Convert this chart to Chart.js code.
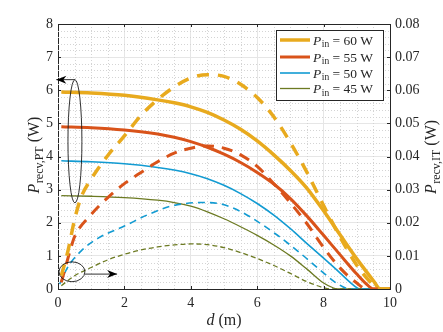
<!DOCTYPE html>
<html>
<head>
<meta charset="utf-8">
<script src="https://cdn.jsdelivr.net/npm/chart.js@4"></script>
<style>
  body { margin: 0; background: #fff; }
  canvas { display: block; }
</style>
</head>
<body>
<canvas id="myChart" width="443" height="332"></canvas>
<script>
// solid curves: P_recv,PT (left axis, W)
const d60 = [0.1, 1, 2, 3, 3.5, 4, 4.5, 5, 5.5, 6, 6.5, 7, 7.5, 8, 8.5, 9, 9.5, 9.7, 10];
const pt60 = [5.95, 5.92, 5.85, 5.71, 5.62, 5.5, 5.33, 5.1, 4.82, 4.47, 4.05, 3.58, 3.04, 2.36, 1.63, 0.91, 0.25, 0, 0];
const d55 = [0.1, 1, 2, 3, 3.5, 4, 4.5, 5, 5.5, 6, 6.5, 7, 7.5, 8, 8.5, 9, 9.3, 9.5, 10];
const pt55 = [4.9, 4.87, 4.8, 4.68, 4.58, 4.45, 4.28, 4.07, 3.82, 3.52, 3.17, 2.73, 2.2, 1.62, 1.03, 0.45, 0.14, 0, 0];
const d50 = [0.1, 1, 2, 3, 3.5, 4, 4.5, 5, 5.5, 6, 6.5, 7, 7.5, 8, 8.5, 8.8, 9.0, 9.1, 10];
const pt50 = [3.87, 3.84, 3.78, 3.67, 3.59, 3.48, 3.33, 3.13, 2.88, 2.58, 2.23, 1.82, 1.37, 0.93, 0.48, 0.2, 0.04, 0, 0];
const d45 = [0.1, 1, 2, 3, 3.5, 4, 4.5, 5, 5.5, 6, 6.5, 7, 7.5, 8, 8.3, 8.45, 10];
const pt45 = [2.82, 2.8, 2.76, 2.68, 2.61, 2.5, 2.33, 2.12, 1.88, 1.62, 1.33, 1.0, 0.6, 0.18, 0.03, 0, 0];

// dashed curves: P_recv,IT (right axis, W)
const dIt60 = [0.1, 0.3, 0.5, 0.7, 1, 1.5, 2, 2.5, 3, 3.5, 4, 4.5, 5, 5.5, 6, 6.5, 7, 7.5, 8, 8.5, 9, 9.4, 9.7, 10];
const it60 = [0.004, 0.0115, 0.021, 0.0278, 0.0332, 0.0403, 0.0462, 0.0524, 0.0572, 0.061, 0.0637, 0.0647, 0.0642, 0.0618, 0.0578, 0.052, 0.0442, 0.0352, 0.0252, 0.0156, 0.0072, 0.0022, 0, 0];
const dIt55 = [0.1, 0.4, 0.5, 1, 1.5, 2, 2.5, 3, 3.5, 4, 4.5, 5, 5.5, 6, 6.5, 7, 7.5, 8, 8.5, 9, 9.3, 10];
const it55 = [0.002, 0.0128, 0.0158, 0.0225, 0.0276, 0.0318, 0.0352, 0.0384, 0.041, 0.0425, 0.0432, 0.0425, 0.0405, 0.037, 0.0318, 0.026, 0.0197, 0.0125, 0.0063, 0.0018, 0, 0];
const dIt50 = [0.05, 0.3, 0.7, 1.2, 2, 2.7, 3.4, 4.3, 4.9, 5.5, 6.1, 6.6, 7.3, 7.9, 8.4, 8.8, 10];
const it50 = [0.0015, 0.0067, 0.0115, 0.0153, 0.019, 0.0224, 0.025, 0.0261, 0.0257, 0.0234, 0.0198, 0.0163, 0.0108, 0.0057, 0.0017, 0, 0];
const dIt45 = [0.1, 0.5, 1, 1.5, 2, 2.5, 3, 3.5, 4, 4.5, 5, 5.5, 6, 6.5, 7, 7.5, 8, 8.2, 10];
const it45 = [0.001, 0.004, 0.0065, 0.0088, 0.0105, 0.0118, 0.0127, 0.0133, 0.0136, 0.0134, 0.0125, 0.011, 0.0092, 0.0071, 0.0047, 0.0022, 0.0004, 0, 0];

const legendLabels = ['60', '55', '50', '45'];
const colors = ['#e8aa1e', '#d9531a', '#129bd2', '#6c7a22'];
const widths = [3.5, 3, 1.6, 1.3];
const dashes = [[12, 9], [11, 8], [7, 5], [5, 3]];

const zip = (xs, ys) => xs.map((x, i) => ({x: x, y: ys[i]}));
const solidData = [zip(d60, pt60), zip(d55, pt55), zip(d50, pt50), zip(d45, pt45)];
const dashData = [zip(dIt60, it60), zip(dIt55, it55), zip(dIt50, it50), zip(dIt45, it45)];

const SERIF = '"Liberation Serif", "DejaVu Serif", serif';
const INK = '#262626';

const datasets = [];
dashData.forEach((data, i) => {
  datasets.push({
    data: data, yAxisID: 'y1', borderColor: colors[i], borderWidth: widths[i],
    borderDash: dashes[i], pointRadius: 0, cubicInterpolationMode: 'monotone', fill: false
  });
});
solidData.forEach((data, i) => {
  datasets.push({
    data: data, yAxisID: 'y', borderColor: colors[i], borderWidth: widths[i],
    pointRadius: 0, cubicInterpolationMode: 'monotone', fill: false
  });
});

// dotted minor grid
const minorGrid = {
  id: 'minorGrid',
  beforeDatasetsDraw(chart) {
    const {ctx, chartArea: {left, right, top, bottom}, scales: {x, y}} = chart;
    ctx.save();
    ctx.strokeStyle = '#d4d4d4';
    ctx.lineWidth = 1;
    ctx.setLineDash([1, 2]);
    for (let k = 1; k < 20; k++) {
      if (k % 4 === 0) continue;
      const px = Math.round(x.getPixelForValue(k * 0.5)) + 0.5;
      ctx.beginPath(); ctx.moveTo(px, top); ctx.lineTo(px, bottom); ctx.stroke();
    }
    for (let k = 1; k < 40; k++) {
      if (k % 5 === 0) continue;
      const py = Math.round(y.getPixelForValue(k * 0.2)) + 0.5;
      ctx.beginPath(); ctx.moveTo(left, py); ctx.lineTo(right, py); ctx.stroke();
    }
    ctx.restore();
  }
};

function arrow(ctx, x0, y0, x1, y1) {
  const ang = Math.atan2(y1 - y0, x1 - x0);
  ctx.beginPath(); ctx.moveTo(x0, y0); ctx.lineTo(x1, y1); ctx.stroke();
  ctx.save();
  ctx.translate(x1, y1);
  ctx.rotate(ang);
  ctx.beginPath();
  ctx.moveTo(0, 0);
  ctx.lineTo(-10, -4);
  ctx.lineTo(-7, 0);
  ctx.lineTo(-10, 4);
  ctx.closePath();
  ctx.fill();
  ctx.restore();
}

// P with subscript, horizontal run starting at (x, y) baseline
function subText(ctx, x, y, main, sub, rest, size, subSize) {
  ctx.font = 'italic ' + size + 'px ' + SERIF;
  ctx.fillText(main, x, y);
  x += ctx.measureText(main).width + 0.5;
  ctx.font = subSize + 'px ' + SERIF;
  ctx.fillText(sub, x, y + size * 0.22);
  x += ctx.measureText(sub).width;
  ctx.font = size + 'px ' + SERIF;
  ctx.fillText(rest, x, y);
  return x + ctx.measureText(rest).width;
}

function subWidth(ctx, main, sub, rest, size, subSize) {
  ctx.font = 'italic ' + size + 'px ' + SERIF;
  let w = ctx.measureText(main).width + 0.5;
  ctx.font = subSize + 'px ' + SERIF;
  w += ctx.measureText(sub).width;
  ctx.font = size + 'px ' + SERIF;
  return w + ctx.measureText(rest).width;
}

const decorations = {
  id: 'decorations',
  afterDraw(chart) {
    const {ctx, chartArea: {left, right, top, bottom}, scales: {x, y}} = chart;
    ctx.save();
    ctx.strokeStyle = INK;
    ctx.fillStyle = INK;
    ctx.lineWidth = 1;

    // top border + inward ticks
    ctx.beginPath(); ctx.moveTo(left, top + 0.5); ctx.lineTo(right, top + 0.5); ctx.stroke();
    for (let v = 0; v <= 10; v += 2) {
      const px = Math.round(x.getPixelForValue(v)) + 0.5;
      ctx.beginPath(); ctx.moveTo(px, bottom); ctx.lineTo(px, bottom - 3); ctx.stroke();
      ctx.beginPath(); ctx.moveTo(px, top); ctx.lineTo(px, top + 3); ctx.stroke();
    }
    for (let v = 0; v <= 8; v++) {
      const py = Math.round(y.getPixelForValue(v)) + 0.5;
      ctx.beginPath(); ctx.moveTo(left, py); ctx.lineTo(left + 3, py); ctx.stroke();
      ctx.beginPath(); ctx.moveTo(right, py); ctx.lineTo(right - 3, py); ctx.stroke();
    }

    // annotation ellipses and arrows
    ctx.strokeStyle = '#1a1a1a';
    ctx.fillStyle = '#000';
    ctx.lineWidth = 0.9;
    const ex1 = x.getPixelForValue(0.51), ey1 = y.getPixelForValue(4.46);
    const rx1 = x.getPixelForValue(0.72) - ex1, ry1 = ey1 - y.getPixelForValue(6.32);
    ctx.beginPath(); ctx.ellipse(ex1, ey1, rx1, ry1, 0, 0, Math.PI * 2); ctx.stroke();
    arrow(ctx, ex1, ey1 - ry1, x.getPixelForValue(-0.05), ey1 - ry1);

    const ex2 = x.getPixelForValue(0.42), ey2 = y.getPixelForValue(0.52);
    const rx2 = x.getPixelForValue(0.81) - ex2, ry2 = ey2 - y.getPixelForValue(0.82);
    ctx.beginPath(); ctx.ellipse(ex2, ey2, rx2, ry2, 0, 0, Math.PI * 2); ctx.stroke();
    arrow(ctx, ex2 + rx2, y.getPixelForValue(0.45), x.getPixelForValue(1.78), y.getPixelForValue(0.45));

    // legend
    const lx = 276.5, ly = 30.5, lw = 107, lh = 70;
    ctx.fillStyle = '#fff';
    ctx.fillRect(lx, ly, lw, lh);
    ctx.strokeStyle = INK;
    ctx.lineWidth = 1;
    ctx.strokeRect(lx, ly, lw, lh);
    const rows = [40, 57, 73, 88.5];
    rows.forEach((ry, i) => {
      ctx.strokeStyle = colors[i];
      ctx.lineWidth = widths[i];
      ctx.beginPath(); ctx.moveTo(280, ry); ctx.lineTo(310, ry); ctx.stroke();
      ctx.fillStyle = INK;
      ctx.textAlign = 'left';
      ctx.textBaseline = 'alphabetic';
      subText(ctx, 313, ry + 4.5, 'P', 'in', ' = ' + legendLabels[i] + ' W', 13.5, 9.5);
    });

    // axis titles
    ctx.fillStyle = INK;
    ctx.textBaseline = 'alphabetic';
    ctx.textAlign = 'left';
    ctx.font = 'italic 16px ' + SERIF;
    const dw = ctx.measureText('d').width;
    ctx.font = '16px ' + SERIF;
    const mw = ctx.measureText(' (m)').width;
    const xs = (left + right) / 2 - (dw + mw) / 2;
    ctx.font = 'italic 16px ' + SERIF;
    ctx.fillText('d', xs, 325);
    ctx.font = '16px ' + SERIF;
    ctx.fillText(' (m)', xs + dw, 325);

    const wPT = subWidth(ctx, 'P', 'recv,PT', ' (W)', 16, 12);
    ctx.save();
    ctx.translate(39, 155);
    ctx.rotate(-Math.PI / 2);
    subText(ctx, -wPT / 2, 0, 'P', 'recv,PT', ' (W)', 16, 12);
    ctx.restore();

    const wIT = subWidth(ctx, 'P', 'recv,IT', ' (W)', 16, 12);
    ctx.save();
    ctx.translate(436, 157);
    ctx.rotate(-Math.PI / 2);
    subText(ctx, -wIT / 2, 0, 'P', 'recv,IT', ' (W)', 16, 12);
    ctx.restore();

    ctx.restore();
  }
};

const tickFont = {family: SERIF, size: 14};

const myChart = new Chart(document.getElementById('myChart').getContext('2d'), {
  type: 'line',
  data: {datasets: datasets},
  plugins: [minorGrid, decorations],
  options: {
    responsive: false,
    animation: false,
    devicePixelRatio: 1,
    layout: {padding: {top: 24, left: 0, right: 0, bottom: 0}},
    plugins: {legend: {display: false}, tooltip: {enabled: false}},
    scales: {
      x: {
        type: 'linear', min: 0, max: 10,
        afterFit: (s) => { s.height = 43; },
        ticks: {stepSize: 2, color: INK, font: tickFont, padding: 6, maxRotation: 0},
        grid: {color: '#e6e6e6', drawTicks: false},
        border: {color: INK, width: 1}
      },
      y: {
        position: 'left', min: 0, max: 8,
        afterFit: (s) => { s.width = 58; },
        ticks: {stepSize: 1, color: INK, font: tickFont, padding: 5},
        grid: {color: '#e6e6e6', drawTicks: false},
        border: {color: INK, width: 1}
      },
      y1: {
        position: 'right', min: 0, max: 0.08,
        afterFit: (s) => { s.width = 53; },
        ticks: {stepSize: 0.01, color: INK, font: tickFont, padding: 5,
          callback: (v) => Math.abs(v) < 1e-9 ? '0' : v.toFixed(2)},
        grid: {display: false, drawTicks: false},
        border: {color: INK, width: 1}
      }
    }
  }
});
</script>
</body>
</html>
